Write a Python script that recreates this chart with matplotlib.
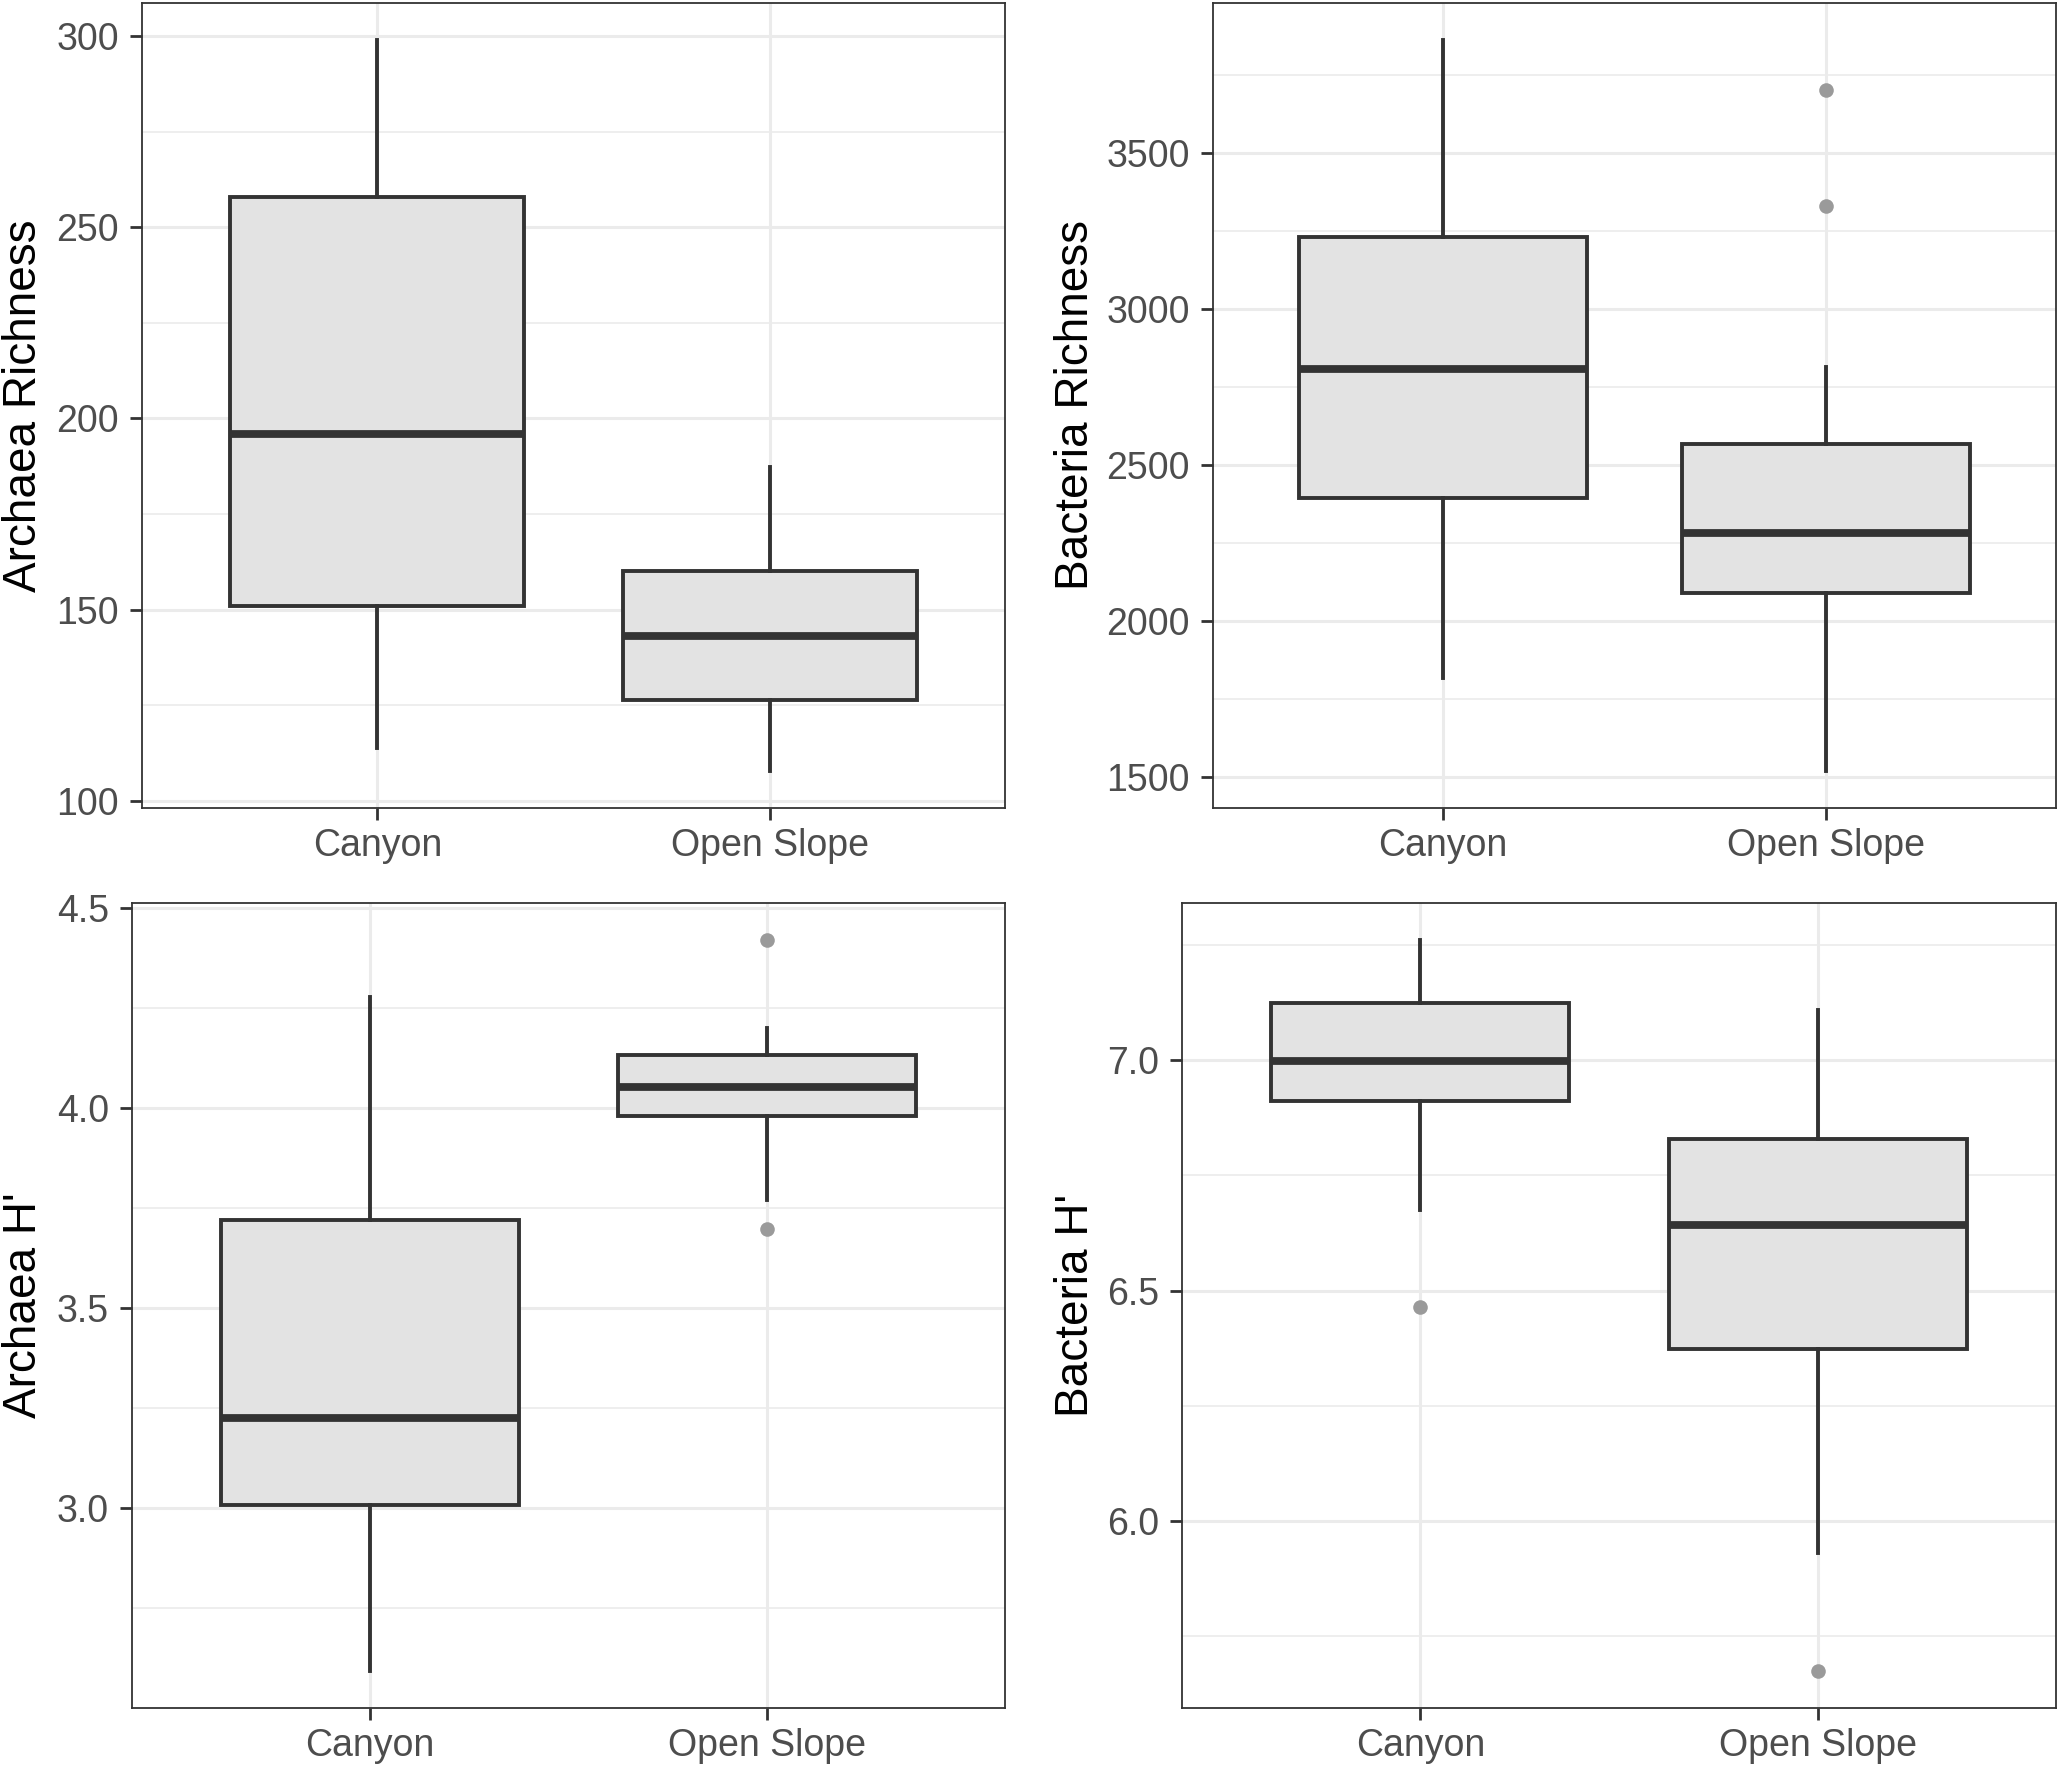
import matplotlib
matplotlib.use("Agg")
import matplotlib.pyplot as plt
from matplotlib.ticker import FixedLocator, NullLocator

plt.rcParams['font.family'] = ['Liberation Sans', 'DejaVu Sans']

groups = ["Canyon", "Open Slope"]

# Archaea richness
arch_rich_low = [113.9, 107.7]
arch_rich_q1 = [151.0, 126.3]
arch_rich_med = [196.0, 143.0]
arch_rich_q3 = [258.0, 160.1]
arch_rich_high = [299.1, 187.3]
arch_rich_out = [[], []]
arch_rich_ticks = [100, 150, 200, 250, 300]
arch_rich_minor = [125, 175, 225, 275]

# Bacteria richness
bact_rich_low = [1817, 1518]
bact_rich_q1 = [2393, 2091]
bact_rich_med = [2808, 2283]
bact_rich_q3 = [3231, 2568]
bact_rich_high = [3862, 2812]
bact_rich_out = [[], [3700, 3328]]
bact_rich_ticks = [1500, 2000, 2500, 3000, 3500]
bact_rich_minor = [1750, 2250, 2750, 3250, 3750]

# Archaea H'
arch_h_low = [2.591, 3.770]
arch_h_q1 = [3.006, 3.980]
arch_h_med = [3.225, 4.052]
arch_h_q3 = [3.719, 4.133]
arch_h_high = [4.277, 4.199]
arch_h_out = [[], [4.421, 3.698]]
arch_h_ticks = [3.0, 3.5, 4.0, 4.5]
arch_h_minor = [2.75, 3.25, 3.75, 4.25]

# Bacteria H'
bact_h_low = [6.674, 5.930]
bact_h_q1 = [6.911, 6.373]
bact_h_med = [6.999, 6.643]
bact_h_q3 = [7.124, 6.830]
bact_h_high = [7.262, 7.110]
bact_h_out = [[6.464], [5.673]]
bact_h_ticks = [6.0, 6.5, 7.0]
bact_h_minor = [5.75, 6.25, 6.75, 7.25]

W, H = 2060, 1767
fig = plt.figure(figsize=(W / 100, H / 100), dpi=100)


def px_rect(l, t, r, b):
    return [l / W, 1 - b / H, (r - l) / W, (b - t) / H]


def panel(rect, low, q1, med, q3, high, out, ticks, minor, label, fmt, label_x):
    ax = fig.add_axes(px_rect(*rect))
    stats = []
    for i in range(len(groups)):
        stats.append(dict(whislo=low[i], q1=q1[i], med=med[i], q3=q3[i],
                          whishi=high[i], fliers=out[i], label=groups[i]))
    ax.bxp(stats, positions=[1, 2], widths=0.75, patch_artist=True,
           showcaps=False,
           boxprops=dict(facecolor='#e3e3e3', edgecolor='#333333', linewidth=2.8),
           whiskerprops=dict(color='#333333', linewidth=2.8),
           medianprops=dict(color='#333333', linewidth=5.6, solid_capstyle='butt'),
           flierprops=dict(marker='o', markerfacecolor='#9a9a9a',
                           markeredgecolor='none', markersize=10.5))
    vals = low + high + [v for o in out for v in o]
    lo, hi = min(vals), max(vals)
    span = hi - lo
    ax.set_ylim(lo - 0.05 * span, hi + 0.05 * span)
    ax.set_xlim(0.4, 2.6)
    ax.set_xticks([1, 2])
    ax.set_xticklabels(groups)
    ax.yaxis.set_major_locator(FixedLocator(ticks))
    ax.yaxis.set_minor_locator(FixedLocator(minor))
    ax.xaxis.set_minor_locator(NullLocator())
    ax.set_yticklabels([fmt.format(t) for t in ticks])
    ax.set_axisbelow(True)
    ax.grid(which='major', color='#ebebeb', linewidth=2.2)
    ax.grid(which='minor', axis='y', color='#ebebeb', linewidth=1.2)
    ax.tick_params(which='major', length=8.6, width=2.0, color='#333333',
                   labelsize=27, labelcolor='#4d4d4d')
    ax.tick_params(axis='x', pad=5.5)
    ax.tick_params(axis='y', pad=8)
    ax.tick_params(which='minor', length=0)
    for s in ax.spines.values():
        s.set_color('#333333')
        s.set_linewidth(1.3)
    ax.set_ylabel(label, fontsize=33, color='black')
    yc = 1 - (rect[1] + rect[3]) / 2 / H
    ax.yaxis.set_label_coords(label_x / W, yc, transform=fig.transFigure)
    return ax


panel((142, 3, 1005, 808), arch_rich_low, arch_rich_q1, arch_rich_med,
      arch_rich_q3, arch_rich_high, arch_rich_out, arch_rich_ticks,
      arch_rich_minor, "Archaea Richness", "{:.0f}", 46)
panel((1213, 3, 2056, 808), bact_rich_low, bact_rich_q1, bact_rich_med,
      bact_rich_q3, bact_rich_high, bact_rich_out, bact_rich_ticks,
      bact_rich_minor, "Bacteria Richness", "{:.0f}", 1098)
panel((132, 903, 1005, 1708), arch_h_low, arch_h_q1, arch_h_med,
      arch_h_q3, arch_h_high, arch_h_out, arch_h_ticks,
      arch_h_minor, "Archaea H'", "{:.1f}", 46)
panel((1182, 903, 2056, 1708), bact_h_low, bact_h_q1, bact_h_med,
      bact_h_q3, bact_h_high, bact_h_out, bact_h_ticks,
      bact_h_minor, "Bacteria H'", "{:.1f}", 1098)

fig.savefig("out.png", dpi=100)
